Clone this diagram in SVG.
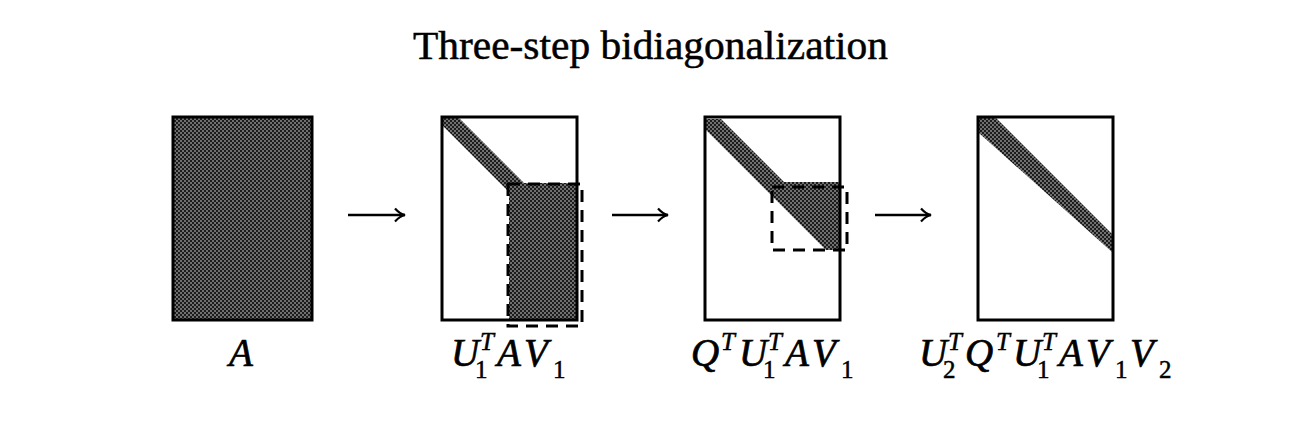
<svg xmlns="http://www.w3.org/2000/svg" width="1294" height="429" viewBox="0 0 1294 429">
<defs>
<pattern id="stip" width="4" height="4" patternUnits="userSpaceOnUse">
<rect width="4" height="4" fill="#1c1c1c"/>
<circle cx="1" cy="1" r="0.8" fill="#dcdcdc"/>
<circle cx="3" cy="3" r="0.8" fill="#dcdcdc"/>
</pattern>
<marker id="ah" markerWidth="16" markerHeight="16" viewBox="0 0 16 16" refX="13" refY="8" orient="auto" markerUnits="userSpaceOnUse">
<path d="M3,1.5 Q8,7 13,8 Q8,9 3,14.5" fill="none" stroke="#000" stroke-width="2.2"/>
</marker>
</defs>
<style>
.frame{fill:none;stroke:#000;stroke-width:3}
.fill{fill:url(#stip)}
.dash{fill:none;stroke:#000;stroke-width:3;stroke-dasharray:12 8}
.arrow{fill:none;stroke:#000;stroke-width:2.5;marker-end:url(#ah)}
.title{font-family:"Liberation Serif","DejaVu Serif",serif;font-size:40px;fill:#000;stroke:#000;stroke-width:0.5}
.m{font-family:"Liberation Serif","DejaVu Serif",serif;font-style:italic;font-size:39px;fill:#000;stroke:#000;stroke-width:0.7}
.s{font-family:"Liberation Serif","DejaVu Serif",serif;font-style:italic;font-size:25px;fill:#000;stroke:#000;stroke-width:0.5}
.n{font-family:"Liberation Serif","DejaVu Serif",serif;font-style:normal;font-size:25px;fill:#000;stroke:#000;stroke-width:0.5}
</style>
<rect width="1294" height="429" fill="#fff"/>
<text class="title" x="413" y="59" textLength="475" lengthAdjust="spacingAndGlyphs">Three-step bidiagonalization</text>

<g id="node-A">
<rect class="fill" x="173" y="117" width="139" height="203"/>
<rect class="frame" x="173" y="117" width="139" height="203"/>
<text class="m" x="229" y="366">A</text>
</g>

<g id="node-U1TAV1">
<polygon class="fill" points="443,118 459,118 524,183 577,183 577,320 509,320 509,192 443,126"/>
<rect class="frame" x="442" y="117" width="135" height="203"/>
<rect class="dash" x="508" y="184" width="74" height="142"/>
<text class="m" x="451" y="366">U</text>
<text class="n" x="475" y="378">1</text>
<text class="s" x="480" y="350">T</text>
<text class="m" x="497" y="366">A</text>
<text class="m" x="524" y="366">V</text>
<text class="n" x="553" y="378">1</text>
</g>

<g id="node-QTU1TAV1">
<polygon class="fill" points="706,119 721,119 784,182 839,182 839,250 826,250 706,130"/>
<rect class="frame" x="705" y="117" width="135" height="203"/>
<rect class="dash" x="772" y="187" width="75" height="63"/>
<text class="m" x="691" y="366">Q</text>
<text class="s" x="721" y="350">T</text>
<text class="m" x="739" y="366">U</text>
<text class="n" x="763" y="378">1</text>
<text class="s" x="768" y="350">T</text>
<text class="m" x="785" y="366">A</text>
<text class="m" x="812" y="366">V</text>
<text class="n" x="841" y="378">1</text>
</g>

<g id="node-U2TQTU1TAV1V2">
<polygon class="fill" points="979,118 996,118 1112,234 1112,252 979,133"/>
<rect class="frame" x="978" y="117" width="135" height="203"/>
<text class="m" x="919" y="366">U</text>
<text class="n" x="943" y="378">2</text>
<text class="s" x="948" y="350">T</text>
<text class="m" x="965" y="366">Q</text>
<text class="s" x="996" y="350">T</text>
<text class="m" x="1013" y="366">U</text>
<text class="n" x="1037" y="378">1</text>
<text class="s" x="1042" y="350">T</text>
<text class="m" x="1059" y="366">A</text>
<text class="m" x="1086" y="366">V</text>
<text class="n" x="1115" y="378">1</text>
<text class="m" x="1130" y="366">V</text>
<text class="n" x="1159" y="378">2</text>
</g>

<g id="connectors">
<line class="arrow" x1="348" y1="215" x2="405" y2="215"/>
<line class="arrow" x1="612" y1="215" x2="668" y2="215"/>
<line class="arrow" x1="875" y1="215" x2="931" y2="215"/>
</g>
</svg>
